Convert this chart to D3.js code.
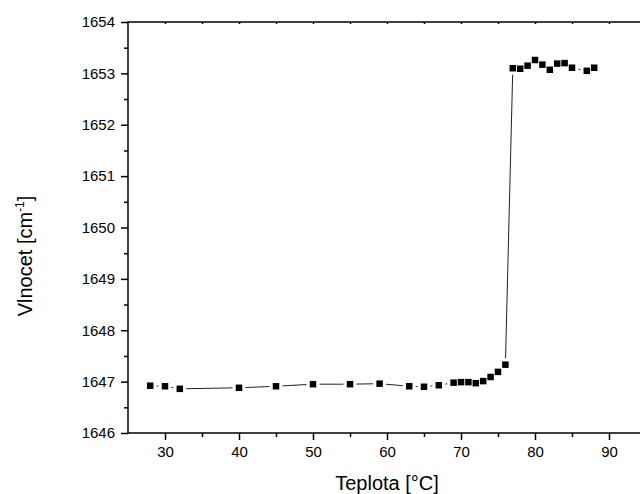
<!DOCTYPE html>
<html>
<head>
<meta charset="utf-8">
<script src="https://cdn.jsdelivr.net/npm/d3@7"></script>
<style>
  html, body { margin: 0; padding: 0; background: #fff; }
  svg { display: block; font-family: "Liberation Sans", Arial, sans-serif; }
</style>
</head>
<body>
<svg id="chart" width="640" height="494"></svg>
<script>
// Data
const temperature = [28, 30, 32, 40, 45, 50, 55, 59, 63, 65, 67, 69, 70, 71, 72, 73, 74, 75, 76,
                     77, 78, 79, 80, 81, 82, 83, 84, 85, 87, 88];
const wavenumber  = [1646.92, 1646.91, 1646.86, 1646.88, 1646.91, 1646.95, 1646.95, 1646.96, 1646.91, 1646.90,
                     1646.93, 1646.98, 1646.99, 1646.99, 1646.97, 1647.01, 1647.09, 1647.19, 1647.33,
                     1653.10, 1653.09, 1653.15, 1653.26, 1653.17, 1653.07, 1653.19, 1653.20, 1653.11, 1653.05, 1653.11];
const xMajorTicks = [30, 40, 50, 60, 70, 80, 90];
const xMinorTicks = [35, 45, 55, 65, 75, 85, 95];
const yMajorTicks = [1646, 1647, 1648, 1649, 1650, 1651, 1652, 1653, 1654];
const yMinorTicks = [1646.5, 1647.5, 1648.5, 1649.5, 1650.5, 1651.5, 1652.5, 1653.5];
const xTitle = "Teplota [°C]";
const yTitleMain = "Vlnocet [cm";
const yTitleSup = "-1";
const yTitleEnd = "]";

(function () {
const svg = d3.select("#chart");
const pLeft = 128, pRight = 646, pTop = 22, pBottom = 433;

const x = d3.scaleLinear().domain([25, 95]).range([pLeft, pRight]);
const y = d3.scaleLinear().domain([1646, 1654]).range([pBottom, pTop]);

const axisStroke = 1.5;

function styleAxis(g) {
  g.select(".domain").remove();
  g.selectAll(".tick line").attr("stroke", "#000").attr("stroke-width", axisStroke);
  g.selectAll(".tick text").attr("fill", "#000").attr("font-size", 15)
    .attr("font-family", "'Liberation Sans', Arial, sans-serif");
}

// bottom axis
svg.append("g").attr("transform", `translate(0,${pBottom})`)
  .call(d3.axisBottom(x).tickValues(xMajorTicks).tickSize(7).tickPadding(6).tickFormat(d3.format("d")))
  .call(styleAxis);
svg.append("g").attr("transform", `translate(0,${pBottom})`)
  .call(d3.axisBottom(x).tickValues(xMinorTicks).tickSize(4).tickFormat(""))
  .call(styleAxis);
// top axis (small ticks, no labels)
svg.append("g").attr("transform", `translate(0,${pTop})`)
  .call(d3.axisBottom(x).tickValues(xMajorTicks.concat(xMinorTicks)).tickSize(2).tickFormat(""))
  .call(styleAxis);

// left axis
svg.append("g").attr("transform", `translate(${pLeft},0)`)
  .call(d3.axisLeft(y).tickValues(yMajorTicks).tickSize(7).tickPadding(6).tickFormat(d3.format("d")))
  .call(styleAxis);
svg.append("g").attr("transform", `translate(${pLeft},0)`)
  .call(d3.axisLeft(y).tickValues(yMinorTicks).tickSize(4).tickFormat(""))
  .call(styleAxis);

// frame
svg.append("rect")
  .attr("x", pLeft).attr("y", pTop)
  .attr("width", pRight - pLeft).attr("height", pBottom - pTop)
  .attr("fill", "none").attr("stroke", "#000").attr("stroke-width", axisStroke);

// connecting line with gaps around markers
const gap = 6.5;
const pts = temperature.map((t, i) => [x(t), y(wavenumber[i])]);
const segs = [];
for (let i = 0; i < pts.length - 1; i++) {
  const [x1, y1] = pts[i], [x2, y2] = pts[i + 1];
  const dx = x2 - x1, dy = y2 - y1, d = Math.hypot(dx, dy);
  if (d <= 2 * gap) continue;
  const ux = dx / d, uy = dy / d;
  segs.push([x1 + ux * gap, y1 + uy * gap, x2 - ux * gap, y2 - uy * gap]);
}
svg.append("g").selectAll("line").data(segs).join("line")
  .attr("x1", d => d[0]).attr("y1", d => d[1])
  .attr("x2", d => d[2]).attr("y2", d => d[3])
  .attr("stroke", "#222").attr("stroke-width", 1);

// markers
const ms = 6.5;
svg.append("g").selectAll("rect").data(temperature).join("rect")
  .attr("x", (d) => x(d) - ms / 2)
  .attr("y", (d, i) => y(wavenumber[i]) - ms / 2)
  .attr("width", ms).attr("height", ms)
  .attr("fill", "#000");

// axis titles
svg.append("text")
  .attr("x", (pLeft + pRight) / 2).attr("y", 490)
  .attr("text-anchor", "middle").attr("font-size", 20).attr("fill", "#000")
  .text(xTitle);

const yt = svg.append("text")
  .attr("transform", `translate(32,256) rotate(-90)`)
  .attr("text-anchor", "middle").attr("font-size", 20).attr("fill", "#000");
yt.append("tspan").text(yTitleMain);
yt.append("tspan").attr("font-size", 12).attr("dy", -8).text(yTitleSup);
yt.append("tspan").attr("dy", 8).text(yTitleEnd);
})();
</script>
</body>
</html>
